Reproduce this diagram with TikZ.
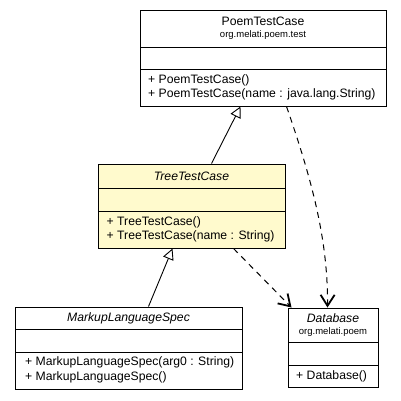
\documentclass[tikz,border=0pt]{standalone}
\usepackage{fontspec}
\setmainfont{Liberation Sans}
\usetikzlibrary{arrows.meta,calc}
\definecolor{focus}{RGB}{255,250,205}
\tikzset{
  classbox/.style={draw=black,line width=1pt,inner sep=0pt,fill=white},
  sepline/.style={draw=black,line width=1pt},
  nametext/.style={inner sep=0pt,font=\fontsize{12.2}{14}\selectfont},
  pkgtext/.style={inner sep=0pt,font=\fontsize{9.5}{11}\selectfont},
  methtext/.style={inner sep=0pt,anchor=west,font=\fontsize{12.2}{14}\selectfont},
  inherit/.style={line width=0.9pt,-{Triangle[open,length=11pt,width=11pt,fill=white]}},
  depend/.style={line width=1pt,dash pattern=on 6pt off 5pt,-{Straight Barb[length=11pt,width=14pt,line width=1.8pt]}}
}
\begin{document}
\begin{tikzpicture}[x=1pt,y=-1pt]
\useasboundingbox (0,0) rectangle (401,400);
% PoemTestCase
\node[classbox,minimum width=246pt,minimum height=96pt] (poem) at (263,58) {};
\draw[sepline] (140,47) -- (386,47);
\draw[sepline] (140,69) -- (386,69);
\node[nametext] (poemname) at (263,21) {PoemTestCase};
\node[pkgtext] (poempkg) at (263,35.5) {org.melati.poem.test};
\node[methtext] (poemm1) at (148,80) {+ PoemTestCase()};
\node[methtext] (poemm2) at (148,94.5) {+ PoemTestCase(name : java.lang.String)};
% TreeTestCase
\node[classbox,fill=focus,minimum width=187pt,minimum height=84pt] (tree) at (191.5,206) {};
\draw[sepline] (98,188) -- (285,188);
\draw[sepline] (98,211) -- (285,211);
\node[nametext,font=\fontsize{12.2}{14}\selectfont\itshape] (treename) at (191.5,176) {TreeTestCase};
\node[methtext] (treem1) at (106.5,222) {+ TreeTestCase()};
\node[methtext] (treem2) at (106.5,236) {+ TreeTestCase(name : String)};
% MarkupLanguageSpec
\node[classbox,minimum width=227pt,minimum height=82pt] (mls) at (128.5,348) {};
\draw[sepline] (15,329) -- (242,329);
\draw[sepline] (15,352) -- (242,352);
\node[nametext,font=\fontsize{12.2}{14}\selectfont\itshape] (mlsname) at (128.5,318) {MarkupLanguageSpec};
\node[methtext] (mlsm1) at (25,362) {+ MarkupLanguageSpec(arg0 : String)};
\node[methtext] (mlsm2) at (25,377) {+ MarkupLanguageSpec()};
% Database
\node[classbox,minimum width=90pt,minimum height=79pt] (db) at (333,347.5) {};
\draw[sepline] (288,342) -- (378,342);
\draw[sepline] (288,365) -- (378,365);
\node[nametext,font=\fontsize{12.2}{14}\selectfont\itshape] (dbname) at (333,318) {Database};
\node[pkgtext] (dbpkg) at (333,332.5) {org.melati.poem};
\node[methtext] (dbm1) at (296,376) {+ Database()};
% connectors
\draw[inherit] ($(tree.north west)+(114,0)$) -- ($(poem.south west)+(101,0)$);
\draw[inherit] ($(mls.north west)+(134,0)$) -- ($(tree.south west)+(75,0)$);
\draw[depend] ($(tree.south west)+(136,0)$) -- ($(db.north west)+(4,0)$);
\draw[depend] ($(poem.south west)+(147,0)$) .. controls (312,180) and (328,240) .. ($(db.north west)+(40,0)$);
\end{tikzpicture}
\end{document}
